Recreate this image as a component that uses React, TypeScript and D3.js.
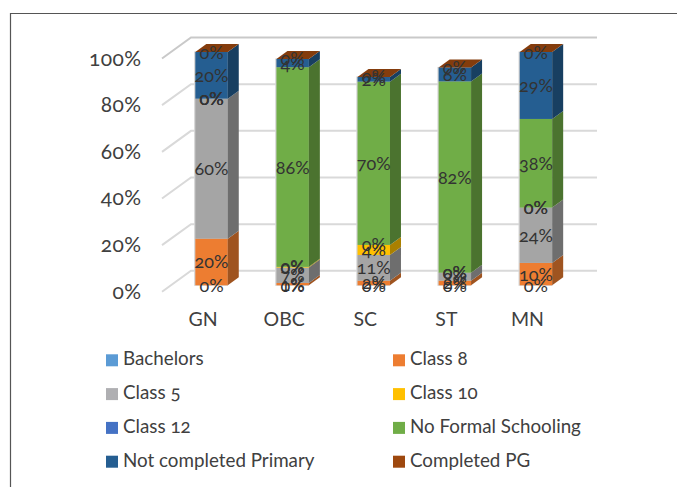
import React from "react";
import * as d3 from "d3";

const categories = ["GN", "OBC", "SC", "ST", "MN"];
const seriesNames = ["Bachelors", "Class 8", "Class 5", "Class 10", "Class 12", "No Formal Schooling", "Not completed Primary", "Completed PG"];
const bachelors = [0, 0, 0, 0, 0];
const class8 = [20, 1, 2, 2, 9.6];
const class5 = [60, 6.6, 11, 3.4, 23.7];
const class10 = [0, 0.3, 4.3, 0, 0];
const class12 = [0, 0, 0, 0, 0];
const noFormal = [0, 85.6, 70, 82, 38];
const notCompleted = [20, 3.5, 2, 6, 28.7];
const completedPG = [0, 0, 0, 0, 0];
const seriesValues = [bachelors, class8, class5, class10, class12, noFormal, notCompleted, completedPG];
const yTicks = [0, 20, 40, 60, 80, 100];
const frontColors = ["#5b9bd5", "#ed7d31", "#a5a5a5", "#ffc000", "#4472c4", "#70ad47", "#255e91", "#9e480e"];
const sideColors = ["#3f6d96", "#9f5420", "#6e6e6e", "#aa8000", "#2e4d84", "#4b732f", "#183f61", "#6a300a"];
const legendColors = ["#5b9bd5", "#ed7d31", "#afafb2", "#ffc000", "#4472c4", "#70ad47", "#255e91", "#9e480e"];

const W = 677, H = 487;
const axisFont = "Lato, sans-serif";
const legendFont = "Lato, sans-serif";
const y = d3.scaleLinear().domain([0, 100]).range([285.3, 52]);
const x = d3.scaleBand().domain(categories).range([171, 576.5]).paddingInner(0.6).paddingOuter(0.3);
const rows = categories.map((c, i) => {
  const r: Record<string, number | string> = { c };
  seriesNames.forEach((s, j) => (r[s] = seriesValues[j][i]));
  return r;
});
const stacked = d3.stack<any>().keys(seriesNames)(rows);
const poly = d3.line();
const DX = 11, DY = 8; // bar depth
const GX = 29, GY = 21; // floor depth
const gridFrontX = 162, gridBackXEnd = 597;

export default function App() {
  const bw = x.bandwidth();
  return (
    <svg width={W} height={H} style={{ position: "fixed", left: 0, top: 0, background: "#fff" }}>
      <path d="M10.5 487V13.5H677" fill="none" stroke="#555" strokeWidth={1.2} />
      {yTicks.map((t) => {
        const fy = y(t) + 6.5;
        return (
          <g key={t}>
            <path d={poly([[gridFrontX, fy], [gridFrontX + GX, fy - GY], [gridBackXEnd, fy - GY]]) as string}
              fill="none" stroke={t === 100 ? "#c9c9c9" : "#d9d9d9"} strokeWidth={2} />
            <text x={141.5} y={fy + 7} textAnchor="end" fontFamily={axisFont} fontSize={21} letterSpacing={0.4}
              fill="#404040" style={{ fontVariantNumeric: "oldstyle-nums" }}>{t}%</text>
          </g>
        );
      })}
      {categories.map((c, i) => {
        const left = x(c) as number;
        const top = d3.max(stacked, (s) => s[i][1]) as number;
        return (
          <g key={c}>
            <rect x={left - 1.2} y={y(top) - 0.5} width={bw + 1.5} height={y(0) - y(top) + 1} fill="#d4d4d4" />
            {stacked.map((s, j) => {
              const y0 = y(s[i][0]), y1 = y(s[i][1]);
              if (y0 - y1 <= 0) return null;
              return (
                <g key={j}>
                  <rect x={left} y={y1} width={bw} height={y0 - y1} fill={frontColors[j]} />
                  <path fill={sideColors[j]} d={poly([[left + bw, y0], [left + bw + DX, y0 - DY], [left + bw + DX, y1 - DY], [left + bw, y1]]) + "Z"} />
                </g>
              );
            })}
            <path fill="#843c0c" d={poly([[left, y(top)], [left + bw, y(top)], [left + bw + DX, y(top) - DY], [left + DX, y(top) - DY]]) + "Z"} />
          </g>
        );
      })}
      {stacked.map((s, j) =>
        categories.map((c, i) => {
          const cx = (x(c) as number) + bw / 2;
          const cy = y((s[i][0] + s[i][1]) / 2);
          return (
            <text key={c + j} x={cx} y={cy + 6.5} textAnchor="middle" fontFamily={axisFont} fontSize={18}
              fill="#333" style={{ fontVariantNumeric: "oldstyle-nums" }}>{Math.round(seriesValues[j][i])}%</text>
          );
        })
      )}
      {categories.map((c) => (
        <text key={c} x={(x(c) as number) + bw / 2 - 8.5} y={326} textAnchor="middle" fontFamily={legendFont} fontSize={19.5} fill="#404040">{c}</text>
      ))}
      {seriesNames.map((s, j) => {
        const col = j % 2, row = (j - col) / 2;
        const lx = col === 0 ? 106 : 393;
        const ly = 354.3 + row * 33.8;
        return (
          <g key={s}>
            <rect x={lx} y={ly} width={12} height={12} fill={legendColors[j]} />
            <text x={lx + 17} y={ly + 11} fontFamily={legendFont} fontSize={18.8} fill="#404040"
              style={{ fontVariantNumeric: "oldstyle-nums" }}>{s}</text>
          </g>
        );
      })}
    </svg>
  );
}
